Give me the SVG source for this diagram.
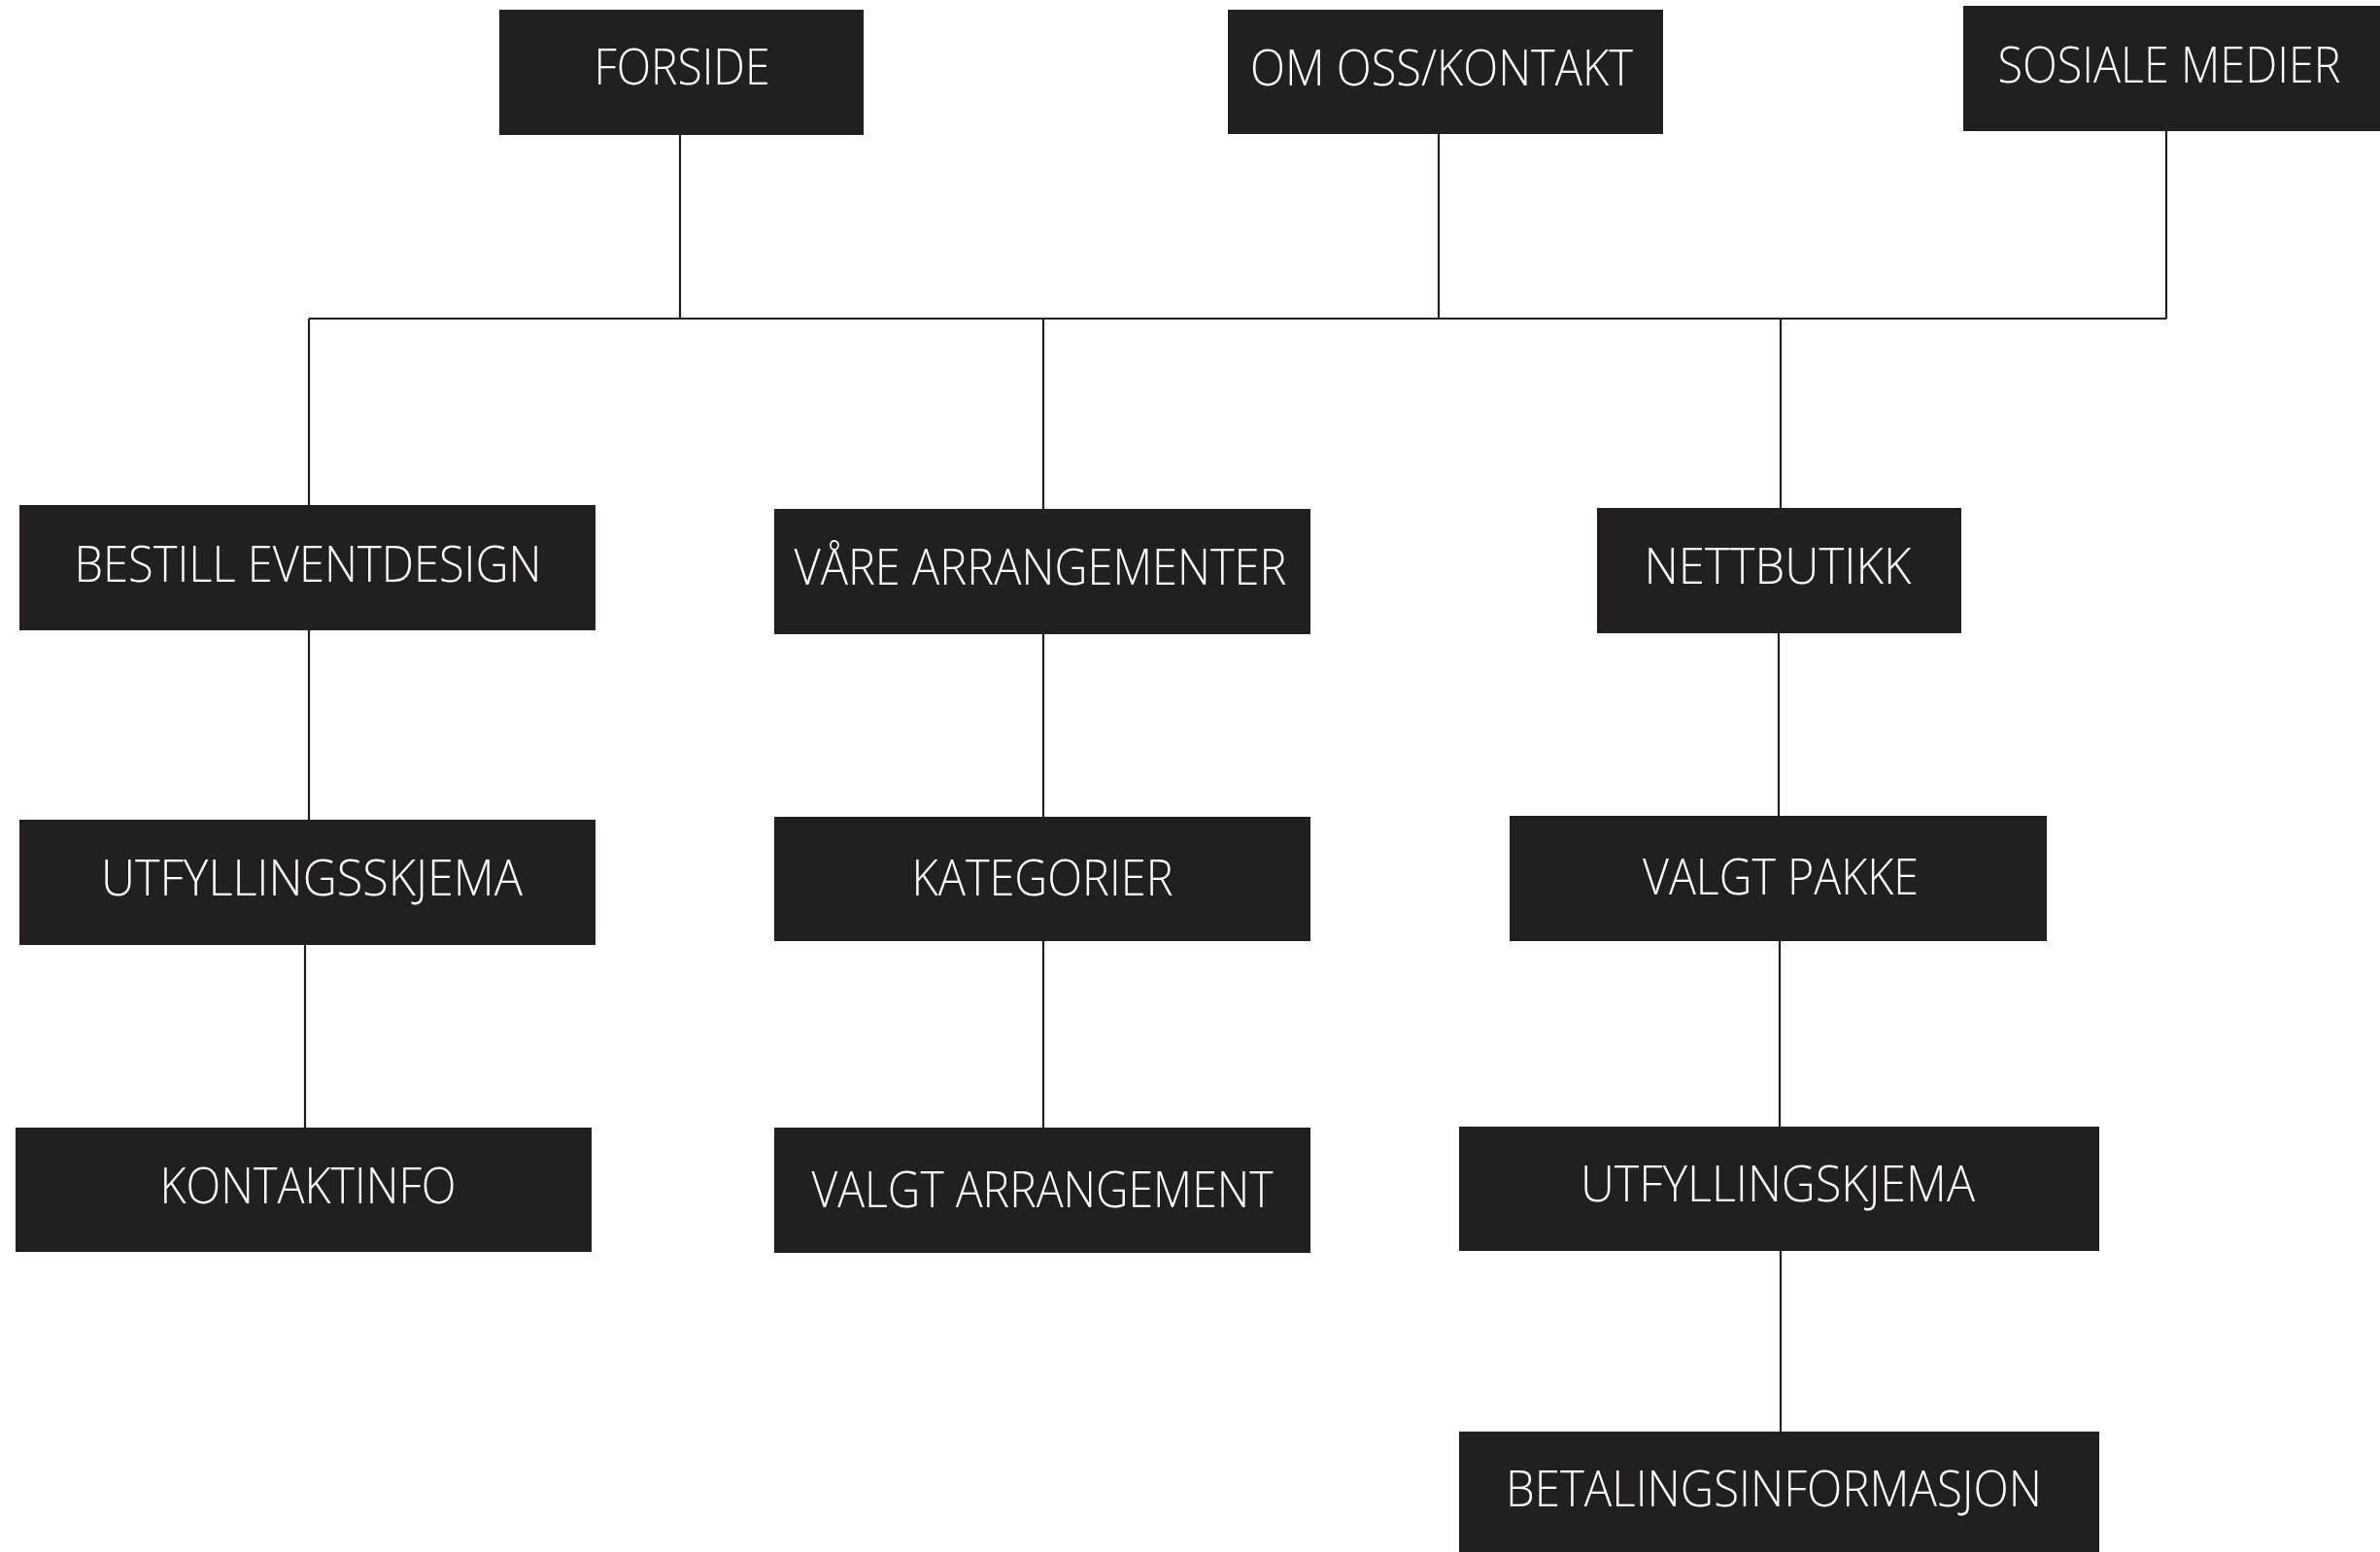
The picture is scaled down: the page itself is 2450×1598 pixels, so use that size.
<svg xmlns="http://www.w3.org/2000/svg" width="2450" height="1598" viewBox="0 0 2450 1598">
<style>
.box{fill:#231f20}
.lbl{fill:#ffffff;font-family:"Open Sans","Noto Sans","Liberation Sans",sans-serif;font-weight:300;font-size:52px;text-anchor:middle}
.ln{stroke:#231f20;stroke-width:2.2;fill:none}
</style>
<rect width="2450" height="1598" fill="#ffffff"/>
<g id="connectors">
<path class="ln" d="M700 139V328M1481 138V328M2230 135V328M318 328H2230M318 328V520M1074 328V524M1833 328V523"/>
<path class="ln" d="M318 649V844M314 973V1161"/>
<path class="ln" d="M1074 653V841M1074 969V1161"/>
<path class="ln" d="M1831 652V840M1832 969V1160M1833 1288V1474"/>
</g>
<g id="forside"><rect class="box" x="514" y="10" width="375" height="129"/><text class="lbl" x="702" y="87" textLength="181" lengthAdjust="spacingAndGlyphs">FORSIDE</text></g>
<g id="om-oss"><rect class="box" x="1264" y="10" width="448" height="128"/><text class="lbl" x="1484" y="88" textLength="394" lengthAdjust="spacingAndGlyphs">OM OSS/KONTAKT</text></g>
<g id="sosiale"><rect class="box" x="2021" y="6" width="429" height="129"/><text class="lbl" x="2233" y="85" textLength="353" lengthAdjust="spacingAndGlyphs">SOSIALE MEDIER</text></g>
<g id="bestill"><rect class="box" x="20" y="520" width="593" height="129"/><text class="lbl" x="317" y="599" textLength="481" lengthAdjust="spacingAndGlyphs">BESTILL EVENTDESIGN</text></g>
<g id="vaare"><rect class="box" x="797" y="524" width="552" height="129"/><text class="lbl" x="1071" y="602" textLength="507" lengthAdjust="spacingAndGlyphs">VÅRE ARRANGEMENTER</text></g>
<g id="nettbutikk"><rect class="box" x="1644" y="523" width="375" height="129"/><text class="lbl" x="1830" y="601" textLength="275" lengthAdjust="spacingAndGlyphs">NETTBUTIKK</text></g>
<g id="utfyll1"><rect class="box" x="20" y="844" width="593" height="129"/><text class="lbl" x="321" y="922" textLength="434" lengthAdjust="spacingAndGlyphs">UTFYLLINGSSKJEMA</text></g>
<g id="kontaktinfo"><rect class="box" x="16" y="1161" width="593" height="128"/><text class="lbl" x="317" y="1239" textLength="305" lengthAdjust="spacingAndGlyphs">KONTAKTINFO</text></g>
<g id="kategorier"><rect class="box" x="797" y="841" width="552" height="128"/><text class="lbl" x="1073" y="922" textLength="269" lengthAdjust="spacingAndGlyphs">KATEGORIER</text></g>
<g id="valgt-arr"><rect class="box" x="797" y="1161" width="552" height="129"/><text class="lbl" x="1073" y="1243" textLength="475" lengthAdjust="spacingAndGlyphs">VALGT ARRANGEMENT</text></g>
<g id="valgt-pakke"><rect class="box" x="1554" y="840" width="553" height="129"/><text class="lbl" x="1833" y="921" textLength="284" lengthAdjust="spacingAndGlyphs">VALGT PAKKE</text></g>
<g id="utfyll2"><rect class="box" x="1502" y="1160" width="659" height="128"/><text class="lbl" x="1830" y="1237" textLength="406" lengthAdjust="spacingAndGlyphs">UTFYLLINGSKJEMA</text></g>
<g id="betaling"><rect class="box" x="1502" y="1474" width="659" height="124"/><text class="lbl" x="1826" y="1551" textLength="552" lengthAdjust="spacingAndGlyphs">BETALINGSINFORMASJON</text></g>
</svg>
